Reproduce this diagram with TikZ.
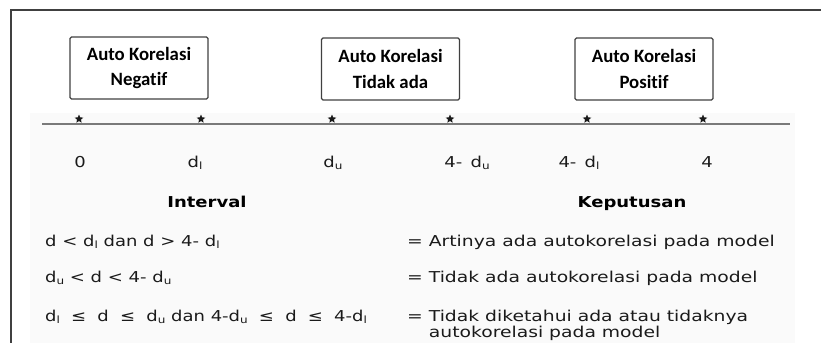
\documentclass[tikz,border=0pt]{standalone}
\usepackage{fontspec}
\setmainfont{DejaVu Sans}
\newfontfamily\boxfont[Ligatures=NoCommon]{Carlito}
\newfontfamily\widefont[FakeStretch=1.2]{DejaVu Sans}
\newfontfamily\spacedfont[FakeStretch=1.25]{DejaVu Sans}
\usetikzlibrary{shapes.geometric}

% small lowered index letter (d_l, d_u)
\newcommand\lowidx[1]{\raisebox{-0.35ex}{\fontsize{10}{10}\selectfont #1}}
% gap around the inequality signs
\newcommand\gp{\ \hspace{5.5pt}}

\definecolor{ink}{HTML}{1A1A1A}
\definecolor{rule}{HTML}{7A7A7A}
\definecolor{band}{HTML}{FAFAFA}

\tikzset{
  frameline/.style={line width=1.5pt, draw=black!75},
  catbox/.style={draw=black!75, line width=1.3pt, rounded corners=1.5pt,
    minimum width=138pt, minimum height=62pt, align=center,
    font=\boxfont\bfseries\fontsize{18.8}{25.5}\selectfont, text=black},
  axis/.style={line width=2.4pt, draw=rule},
  starmark/.style={star, star points=5, star point ratio=2.2, fill=ink,
    draw=none, inner sep=0pt, minimum size=9pt},
  tick/.style={anchor=base, inner sep=0pt, text=ink,
    font=\widefont\fontsize{15}{17}\selectfont},
  head/.style={anchor=base, inner sep=0pt, text=black,
    font=\widefont\bfseries\fontsize{15}{17}\selectfont},
  rowtext/.style={anchor=base west, inner sep=0pt, text=ink, align=left,
    font=\widefont\fontsize{15}{16}\selectfont},
  dectext/.style={anchor=base west, inner sep=0pt, text=ink, align=left,
    font=\spacedfont\fontsize{15}{16}\selectfont},
}

\begin{document}
\begin{tikzpicture}[x=1pt, y=-1pt]
\useasboundingbox (0,0) rectangle (821,343);

% faint panel behind the scale and the table
\fill[band] (30,113) rectangle (795,343);

% frame: top and left edges
\coordinate (fr) at (821,10);
\coordinate (fc) at (11,10);
\coordinate (fb) at (11,343);
\draw[frameline] (fr) -- (fc) -- (fb);

% category boxes
\node[catbox] (neg) at (139,68) {Auto Korelasi\\Negatif};
\node[catbox] (none) at (390.5,69) {Auto Korelasi\\Tidak ada};
\node[catbox] (pos) at (644,69) {Auto Korelasi\\Positif};

% the d-scale
\coordinate (al) at (42,124);
\coordinate (ar) at (790,124);
\draw[axis] (al) -- (ar);

\node[starmark] (s0) at (79,119) {};
\node[starmark] (s1) at (201,119) {};
\node[starmark] (s2) at (332,119) {};
\node[starmark] (s3) at (450,119) {};
\node[starmark] (s4) at (587,119) {};
\node[starmark] (s5) at (703,119) {};

\node[tick] (t0) at (80,167) {0};
\node[tick] (t1) at (195,167) {d\lowidx{l}};
\node[tick] (t2) at (333,167) {d\lowidx{u}};
\node[tick] (t3) at (467,167) {4-\,\ d\lowidx{u}};
\node[tick] (t4) at (579,167) {4-\,\ d\lowidx{l}};
\node[tick] (t5) at (707,167) {4};

% decision table
\node[head] (hint) at (207,207) {Interval};
\node[head] (hdec) at (632,207) {Keputusan};

\node[rowtext] (i1) at (45,246) {d < d\lowidx{l} dan d > 4-\ d\lowidx{l}};
\node[rowtext] (i2) at (45,282) {d\lowidx{u} < d < 4-\ d\lowidx{u}};
\node[rowtext] (i3) at (45,321) {d\lowidx{l}\gp≤\gp d\gp≤\gp d\lowidx{u} dan 4-d\lowidx{u}\gp≤\gp d\gp≤\gp 4-d\lowidx{l}};

\node[dectext] (k1) at (407,246) {= Artinya ada autokorelasi pada model};
\node[dectext] (k2) at (407,282) {= Tidak ada autokorelasi pada model};
\node[dectext] (k3) at (407,337) {= Tidak diketahui ada atau tidaknya\\\phantom{= }autokorelasi pada model};
\end{tikzpicture}
\end{document}
